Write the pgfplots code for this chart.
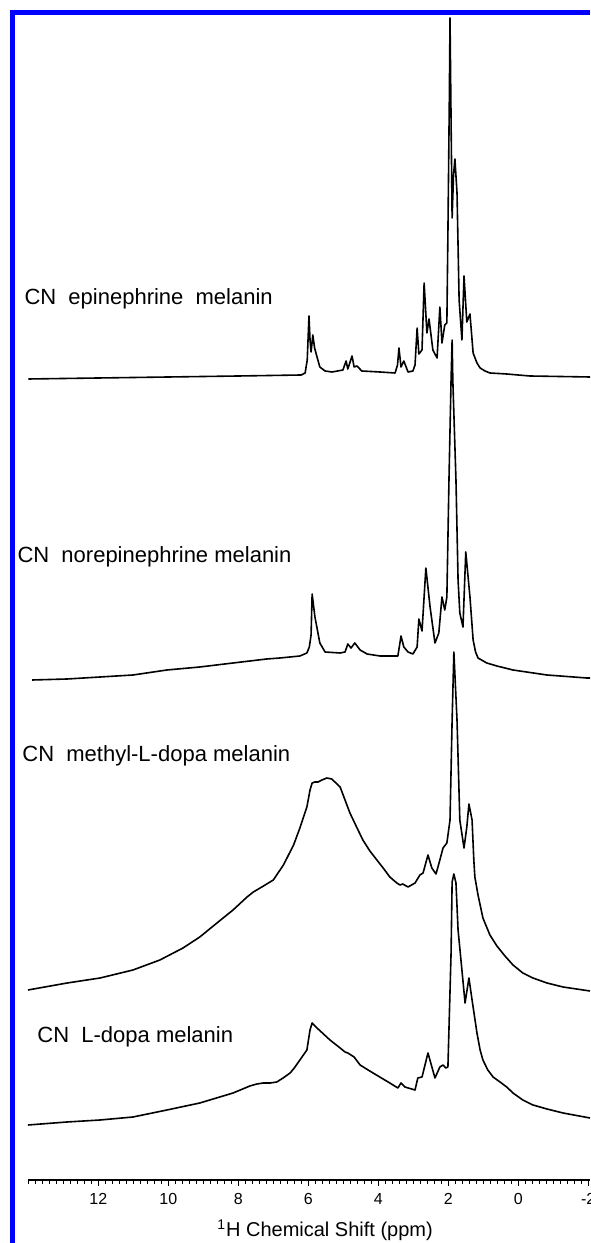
\documentclass[border=0pt]{standalone}
\usepackage{fontspec}
\setmainfont{Liberation Sans}
\usepackage{pgfplots}
\pgfplotsset{compat=1.18}

\begin{document}
\begin{tikzpicture}
\begin{axis}[
    scale only axis,
    width=280.85pt, height=590pt,
    x dir=reverse,
    xmin=-2.05, xmax=14,
    ymin=0, ymax=1180,
    axis x line*=bottom,
    axis y line=none,
    xtick={-2,0,2,4,6,8,10,12},
    xticklabels={-2,0,2,4,6,8,10,12},
    minor xtick={-1.8,-1.6,...,14.01},
    tick align=outside,
    major tick length=3pt,
    minor tick length=1.8pt,
    tick style={black, line width=0.55pt},
    minor tick style={black, line width=0.55pt},
    axis line style={black, line width=0.6pt},
    xticklabel style={font=\fontsize{8}{9}\selectfont},
    clip=false,
    spec/.style={black, line width=0.8pt, line join=round, mark=none},
]
% CN epinephrine melanin
\addplot[spec] coordinates {
(14.0,801) (12.0,802) (10.0,803) (8.0,804) (6.2,805) (6.09,807) (6.03,820)
(5.98,864) (5.95,840) (5.92,828) (5.87,845) (5.82,832) (5.75,823) (5.67,813)
(5.52,809) (5.32,808) (5.01,810) (4.92,819) (4.87,811) (4.75,824) (4.69,813)
(4.61,814) (4.47,809) (3.95,808) (3.52,807) (3.45,815) (3.41,832) (3.35,813)
(3.27,819) (3.15,808) (3.01,809) (2.95,815) (2.89,852) (2.84,826) (2.75,830)
(2.69,897) (2.61,847) (2.55,861) (2.44,830) (2.32,822) (2.24,873) (2.18,837)
(2.10,855) (2.04,857) (2.01,947) (1.97,1080) (1.95,1162) (1.92,1060) (1.89,962)
(1.85,1005) (1.81,1021) (1.75,987) (1.69,880) (1.61,840) (1.55,904) (1.47,858)
(1.38,866) (1.29,827) (1.18,817) (1.09,812) (0.95,809) (0.81,807) (0.33,806)
(-0.33,804) (-2.05,803)
};
% CN norepinephrine melanin
\addplot[spec] coordinates {
(13.89,500) (12.89,501) (11.95,503) (11.01,505) (10.04,510) (9.10,513) (8.15,517)
(7.19,521) (6.81,522) (6.24,524) (6.04,527) (5.97,533) (5.92,545) (5.89,586)
(5.81,563) (5.75,552) (5.67,537) (5.52,528) (5.09,527) (4.95,528) (4.87,536)
(4.78,532) (4.67,537) (4.52,530) (4.32,526) (3.95,524) (3.44,524) (3.35,544)
(3.27,533) (3.15,528) (3.01,526) (2.89,533) (2.84,561) (2.75,549) (2.64,612)
(2.52,573) (2.38,537) (2.27,547) (2.18,583) (2.10,570) (2.04,583) (1.98,700)
(1.92,800) (1.89,840) (1.87,800) (1.78,700) (1.72,600) (1.67,567) (1.58,553)
(1.50,628) (1.38,583) (1.29,540) (1.22,528) (1.15,522) (0.90,517) (0.61,514)
(0.15,510) (-0.82,505) (-1.96,502) (-2.05,502)
};
% CN methyl-L-dopa melanin
\addplot[spec] coordinates {
(14.01,190) (12.89,197) (11.95,202) (11.01,210) (10.24,220) (9.58,232) (9.10,243)
(8.61,257) (8.15,270) (7.75,283) (7.57,288) (7.28,294) (7.00,300) (6.71,315)
(6.42,335) (6.24,352) (6.04,373) (5.95,390) (5.89,397) (5.81,398) (5.72,398)
(5.61,400) (5.47,402) (5.33,401) (5.24,398) (5.09,393) (4.95,380) (4.81,367)
(4.62,353) (4.44,340) (4.24,329) (4.04,320) (3.86,312) (3.67,303) (3.47,297)
(3.38,295) (3.30,296) (3.15,293) (2.95,297) (2.81,305) (2.72,307) (2.58,325)
(2.47,312) (2.35,306) (2.24,320) (2.15,332) (2.04,337) (1.95,360) (1.89,460)
(1.84,528) (1.75,460) (1.67,360) (1.55,332) (1.47,353) (1.41,376) (1.32,360)
(1.27,320) (1.24,303) (1.15,285) (1.01,262) (0.81,245) (0.61,234) (0.38,224)
(0.15,215) (-0.13,207) (-0.42,202) (-0.82,197) (-1.28,193) (-2.05,189)
};
% CN L-dopa melanin
\addplot[spec] coordinates {
(14.01,55) (12.90,58) (11.95,60) (11.01,63) (10.04,70) (9.10,77) (8.15,87)
(7.67,94) (7.47,96) (7.29,97) (7.09,97) (6.90,98) (6.72,102) (6.52,107)
(6.40,112) (6.24,120) (6.04,130) (5.95,150) (5.89,157) (5.75,152) (5.38,140)
(5.09,132) (4.95,128) (4.87,127) (4.69,123) (4.52,115) (4.15,107) (3.67,97)
(3.44,92) (3.35,97) (3.24,93) (2.95,90) (2.87,102) (2.75,103) (2.58,127)
(2.38,102) (2.24,113) (2.15,115) (2.07,112) (2.01,113) (1.92,227) (1.89,298)
(1.84,306) (1.78,297) (1.72,250) (1.61,210) (1.52,177) (1.41,202) (1.32,180)
(1.18,147) (1.09,130) (1.01,120) (0.87,110) (0.72,103) (0.52,98) (0.33,93)
(0.15,87) (-0.13,80) (-0.42,75) (-0.82,71) (-1.28,67) (-2.05,62)
};

\node[anchor=base west, inner sep=0pt, font=\fontsize{11}{13}\selectfont] at (axis cs:14.12,875) {CN\ \ epinephrine\ \ melanin};
\node[anchor=base west, inner sep=0pt, font=\fontsize{11}{13}\selectfont] at (axis cs:14.32,617) {CN\ \ norepinephrine melanin};
\node[anchor=base west, inner sep=0pt, font=\fontsize{11}{13}\selectfont] at (axis cs:14.18,418) {CN\ \ methyl-L-dopa melanin};
\node[anchor=base west, inner sep=0pt, font=\fontsize{11}{13}\selectfont] at (axis cs:13.75,137) {CN\ \ L-dopa melanin};
\node[font=\fontsize{10}{12}\selectfont] at (axis cs:5.52,-50) {\textsuperscript{1}H Chemical Shift (ppm)};

% frame line of the figure panel
\draw[blue, line width=2.5pt, line join=miter] (axis cs:14.451,-63) -- (axis cs:14.451,1167.5) -- (axis cs:-2.05,1167.5);

\coordinate (bbl) at (axis cs:14.809,-63);
\coordinate (btr) at (axis cs:-2.05,1180);
\end{axis}
\pgfresetboundingbox
\useasboundingbox (bbl) rectangle (btr);
\end{tikzpicture}
\end{document}
